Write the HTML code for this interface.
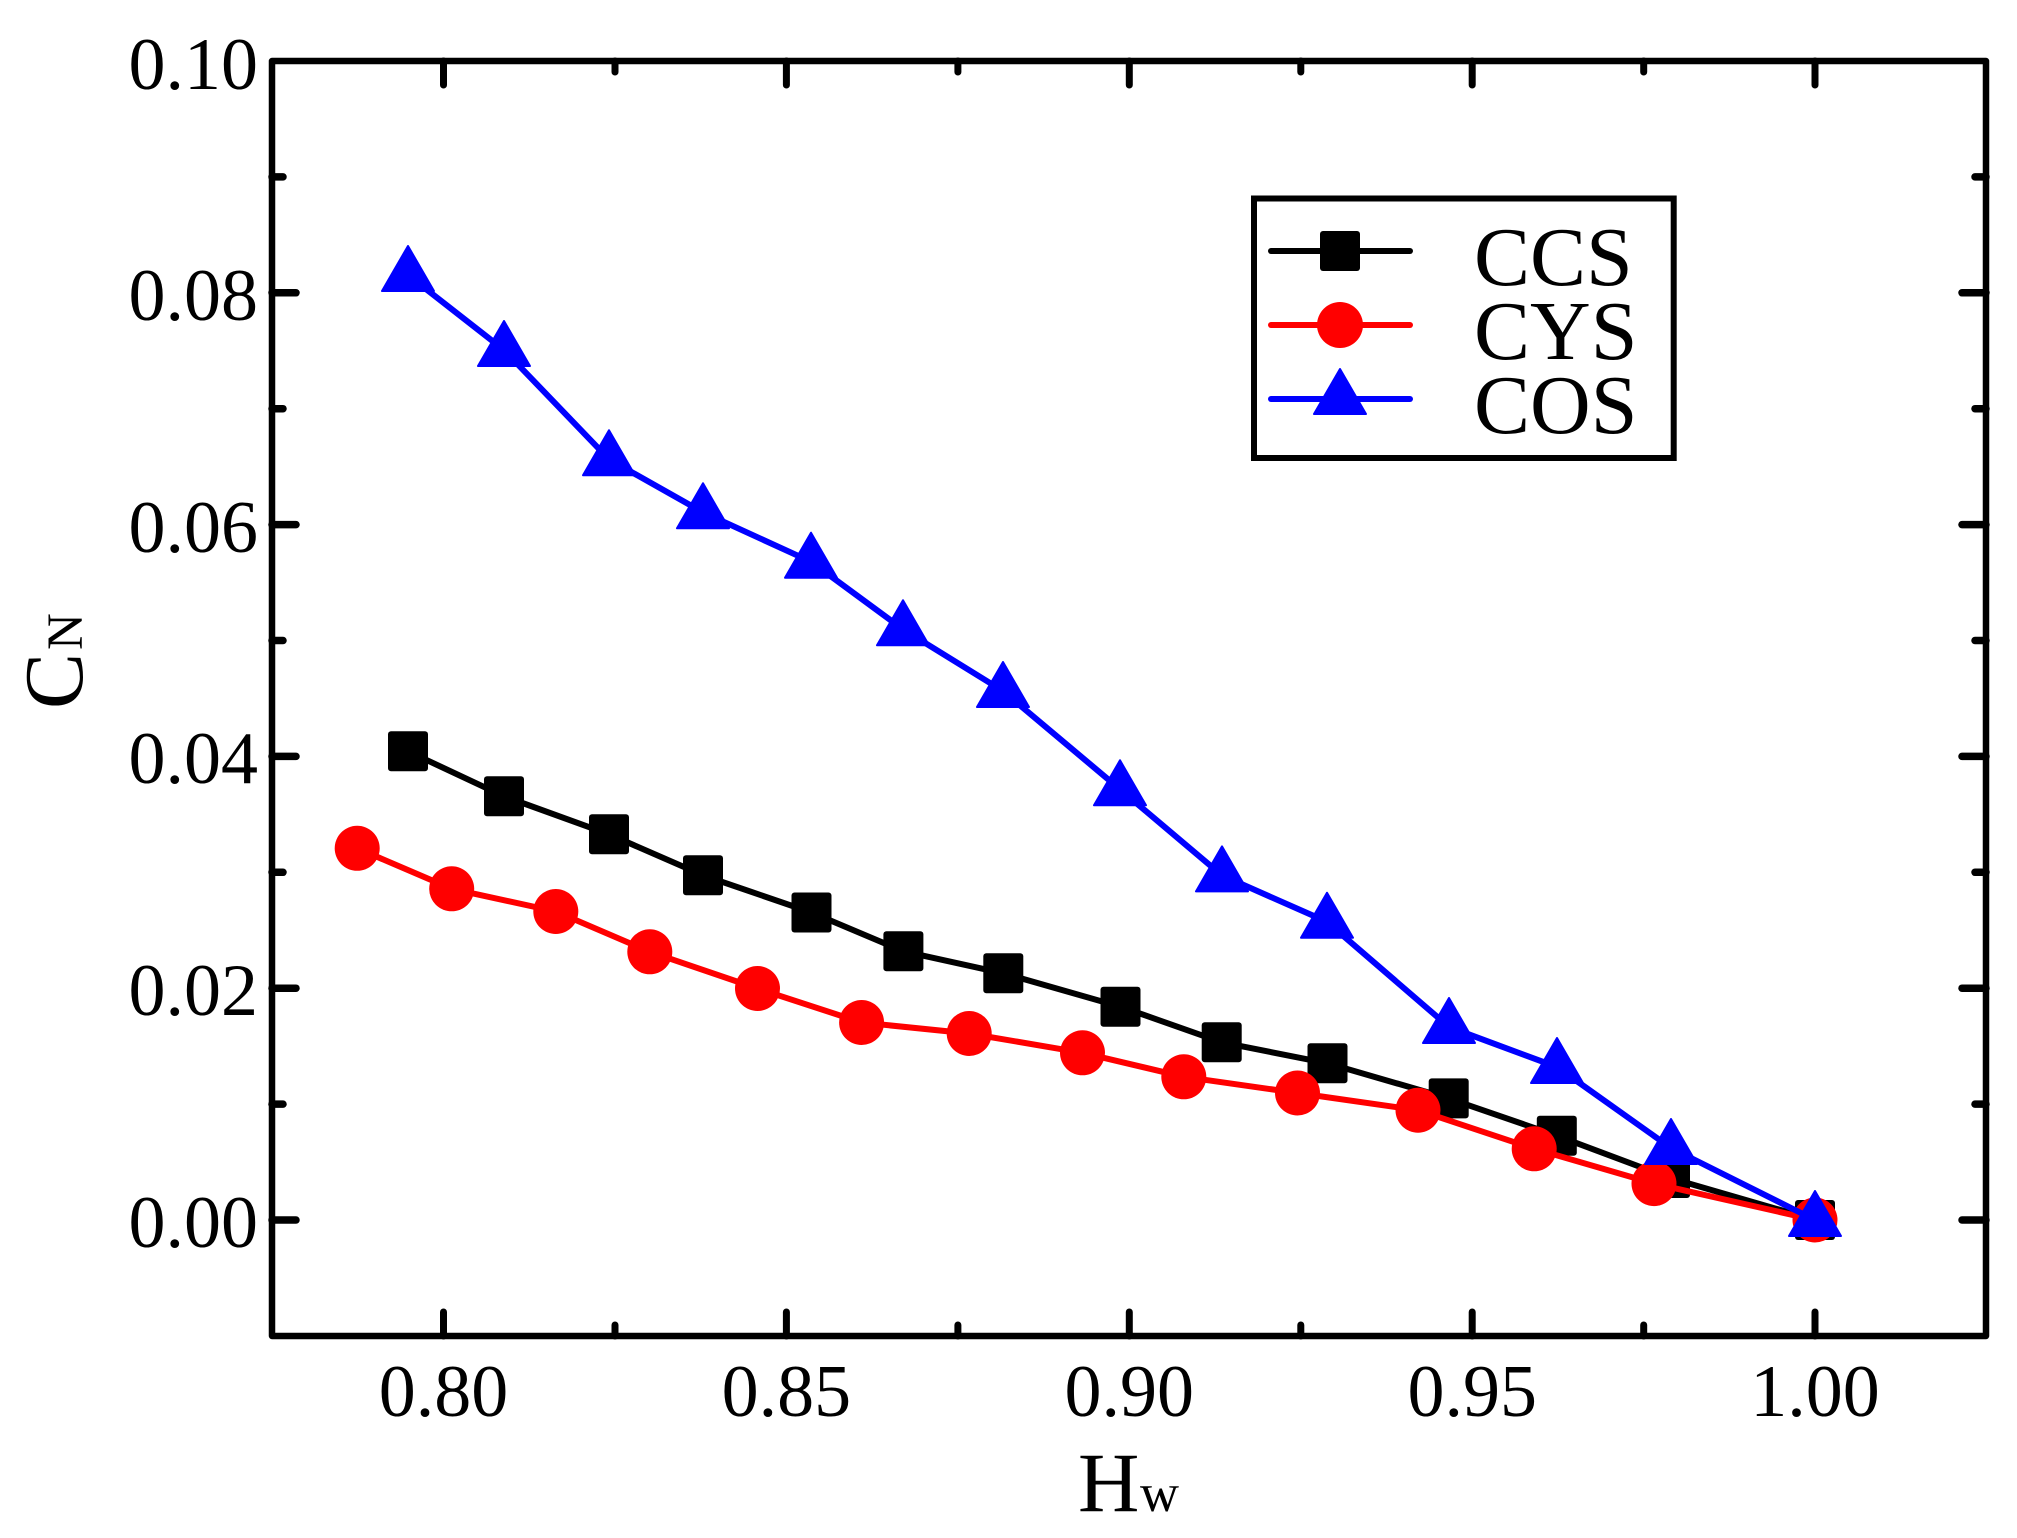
<!DOCTYPE html>
<html>
<head>
<meta charset="utf-8">
<style>
html,body{margin:0;padding:0;background:#fff;}
svg{display:block;}
text{font-family:"Liberation Serif","DejaVu Serif",serif;fill:#000;}
</style>
</head>
<body>
<svg width="2017" height="1538" viewBox="0 0 2017 1538" xmlns="http://www.w3.org/2000/svg">
<rect x="0" y="0" width="2017" height="1538" fill="#fff"/>

<!-- ticks -->
<g stroke="#000" stroke-width="7.5" stroke-linecap="round" fill="none">
  <line x1="272" y1="1220" x2="296" y2="1220"/>
  <line x1="272" y1="988.2" x2="296" y2="988.2"/>
  <line x1="272" y1="756.4" x2="296" y2="756.4"/>
  <line x1="272" y1="524.6" x2="296" y2="524.6"/>
  <line x1="272" y1="292.8" x2="296" y2="292.8"/>
  <line x1="272" y1="1104.1" x2="283" y2="1104.1"/>
  <line x1="272" y1="872.3" x2="283" y2="872.3"/>
  <line x1="272" y1="640.5" x2="283" y2="640.5"/>
  <line x1="272" y1="408.7" x2="283" y2="408.7"/>
  <line x1="272" y1="176.9" x2="283" y2="176.9"/>
  <line x1="1986" y1="1220" x2="1962" y2="1220"/>
  <line x1="1986" y1="988.2" x2="1962" y2="988.2"/>
  <line x1="1986" y1="756.4" x2="1962" y2="756.4"/>
  <line x1="1986" y1="524.6" x2="1962" y2="524.6"/>
  <line x1="1986" y1="292.8" x2="1962" y2="292.8"/>
  <line x1="1986" y1="1104.1" x2="1975" y2="1104.1"/>
  <line x1="1986" y1="872.3" x2="1975" y2="872.3"/>
  <line x1="1986" y1="640.5" x2="1975" y2="640.5"/>
  <line x1="1986" y1="408.7" x2="1975" y2="408.7"/>
  <line x1="1986" y1="176.9" x2="1975" y2="176.9"/>
</g>
<g stroke="#000" stroke-width="7" stroke-linecap="round" fill="none">
  <line x1="443.5" y1="1336" x2="443.5" y2="1312"/>
  <line x1="786.4" y1="1336" x2="786.4" y2="1312"/>
  <line x1="1129.3" y1="1336" x2="1129.3" y2="1312"/>
  <line x1="1472.2" y1="1336" x2="1472.2" y2="1312"/>
  <line x1="1815" y1="1336" x2="1815" y2="1312"/>
  <line x1="615" y1="1336" x2="615" y2="1325"/>
  <line x1="957.9" y1="1336" x2="957.9" y2="1325"/>
  <line x1="1300.8" y1="1336" x2="1300.8" y2="1325"/>
  <line x1="1643.7" y1="1336" x2="1643.7" y2="1325"/>
  <line x1="443.5" y1="61" x2="443.5" y2="85"/>
  <line x1="786.4" y1="61" x2="786.4" y2="85"/>
  <line x1="1129.3" y1="61" x2="1129.3" y2="85"/>
  <line x1="1472.2" y1="61" x2="1472.2" y2="85"/>
  <line x1="1815" y1="61" x2="1815" y2="85"/>
  <line x1="615" y1="61" x2="615" y2="72"/>
  <line x1="957.9" y1="61" x2="957.9" y2="72"/>
  <line x1="1300.8" y1="61" x2="1300.8" y2="72"/>
  <line x1="1643.7" y1="61" x2="1643.7" y2="72"/>
</g>

<!-- frame -->
<rect x="272" y="61" width="1714" height="1275" fill="none" stroke="#000" stroke-width="6.5" stroke-linejoin="round"/>

<!-- y tick labels -->
<g font-size="74" text-anchor="end">
  <text x="258" y="1247">0.00</text>
  <text x="258" y="1015">0.02</text>
  <text x="258" y="783">0.04</text>
  <text x="258" y="552">0.06</text>
  <text x="258" y="320">0.08</text>
  <text x="258" y="89">0.10</text>
</g>
<!-- x tick labels -->
<g font-size="74" text-anchor="middle">
  <text x="443.5" y="1416">0.80</text>
  <text x="786.4" y="1416">0.85</text>
  <text x="1129.3" y="1416">0.90</text>
  <text x="1472.2" y="1416">0.95</text>
  <text x="1815" y="1416">1.00</text>
</g>

<!-- axis titles -->
<text x="1078" y="1511" font-size="85">H</text>
<text x="1140" y="1511" font-size="54">w</text>
<g transform="translate(82,709) rotate(-90)">
  <text x="0" y="0" font-size="84">C</text>
  <text x="59" y="0" font-size="51">N</text>
</g>

<!-- CCS series (black) -->
<polyline fill="none" stroke="#000" stroke-width="6" stroke-linejoin="round" stroke-linecap="round"
  points="408,751.3 504,796.3 609,834.3 703,875.3 811.5,912.5 903.4,951.3 1003.3,973.3 1120.5,1006.7 1221.7,1042.3 1327.5,1063.3 1448.7,1098.4 1556.8,1135.7 1670,1178 1815,1220"/>
<g fill="#000">
  <rect x="388" y="731.3" width="40" height="40" rx="3"/>
  <rect x="484" y="776.3" width="40" height="40" rx="3"/>
  <rect x="589" y="814.3" width="40" height="40" rx="3"/>
  <rect x="683" y="855.3" width="40" height="40" rx="3"/>
  <rect x="791.5" y="892.5" width="40" height="40" rx="3"/>
  <rect x="883.4" y="931.3" width="40" height="40" rx="3"/>
  <rect x="983.3" y="953.3" width="40" height="40" rx="3"/>
  <rect x="1100.5" y="986.7" width="40" height="40" rx="3"/>
  <rect x="1201.7" y="1022.3" width="40" height="40" rx="3"/>
  <rect x="1307.5" y="1043.3" width="40" height="40" rx="3"/>
  <rect x="1428.7" y="1078.4" width="40" height="40" rx="3"/>
  <rect x="1536.8" y="1115.7" width="40" height="40" rx="3"/>
  <rect x="1650" y="1158" width="40" height="40" rx="3"/>
  <rect x="1795" y="1200" width="40" height="40" rx="3"/>
</g>

<!-- CYS series (red) -->
<polyline fill="none" stroke="#ff0000" stroke-width="6" stroke-linejoin="round" stroke-linecap="round"
  points="357.2,848.3 451.7,888.8 555.8,911.5 649.8,951.8 757.5,988.5 861.6,1022.5 969.2,1033.5 1082.5,1052.8 1183.8,1076.8 1297.5,1093 1418,1110.2 1534.2,1148.8 1654,1183.6 1815,1220"/>
<g fill="#ff0000">
  <circle cx="357.2" cy="848.3" r="22.5"/>
  <circle cx="451.7" cy="888.8" r="22.5"/>
  <circle cx="555.8" cy="911.5" r="22.5"/>
  <circle cx="649.8" cy="951.8" r="22.5"/>
  <circle cx="757.5" cy="988.5" r="22.5"/>
  <circle cx="861.6" cy="1022.5" r="22.5"/>
  <circle cx="969.2" cy="1033.5" r="22.5"/>
  <circle cx="1082.5" cy="1052.8" r="22.5"/>
  <circle cx="1183.8" cy="1076.8" r="22.5"/>
  <circle cx="1297.5" cy="1093" r="22.5"/>
  <circle cx="1418" cy="1110.2" r="22.5"/>
  <circle cx="1534.2" cy="1148.8" r="22.5"/>
  <circle cx="1654" cy="1183.6" r="22.5"/>
  <circle cx="1815" cy="1220" r="22.5"/>
</g>

<!-- COS series (blue) -->
<polyline fill="none" stroke="#0000ff" stroke-width="6" stroke-linejoin="round" stroke-linecap="round"
  points="408,275 504,350 609,459.3 703,512.3 811,561.7 903,629.3 1003,691 1120,789.3 1222,875.4 1327,921.8 1449,1027 1557,1067 1671,1148 1815,1220"/>
<g fill="#0000ff" stroke="#0000ff" stroke-width="2" stroke-linejoin="round">
  <polygon points="408,246 382,291 434,291"/>
  <polygon points="504,321 478,366 530,366"/>
  <polygon points="609,430.3 583,475.3 635,475.3"/>
  <polygon points="703,483.3 677,528.3 729,528.3"/>
  <polygon points="811,532.7 785,577.7 837,577.7"/>
  <polygon points="903,600.3 877,645.3 929,645.3"/>
  <polygon points="1003,662 977,707 1029,707"/>
  <polygon points="1120,760.3 1094,805.3 1146,805.3"/>
  <polygon points="1222,846.4 1196,891.4 1248,891.4"/>
  <polygon points="1327,892.8 1301,937.8 1353,937.8"/>
  <polygon points="1449,998 1423,1043 1475,1043"/>
  <polygon points="1557,1038 1531,1083 1583,1083"/>
  <polygon points="1671,1119 1645,1164 1697,1164"/>
  <polygon points="1815,1191 1789,1236 1841,1236"/>
</g>

<!-- legend -->
<rect x="1254" y="198.5" width="419.7" height="259.5" fill="#fff" stroke="#000" stroke-width="6"/>
<line x1="1271" y1="251" x2="1410" y2="251" stroke="#000" stroke-width="6" stroke-linecap="round"/>
<rect x="1320" y="231" width="40" height="40" rx="3" fill="#000"/>
<line x1="1271" y1="325" x2="1410" y2="325" stroke="#ff0000" stroke-width="6" stroke-linecap="round"/>
<circle cx="1340" cy="325" r="23" fill="#ff0000"/>
<line x1="1271" y1="399" x2="1410" y2="399" stroke="#0000ff" stroke-width="6" stroke-linecap="round"/>
<polygon points="1340,369 1314,414 1366,414" fill="#0000ff" stroke="#0000ff" stroke-width="2" stroke-linejoin="round"/>
<g font-size="84">
  <text x="1474" y="285">CCS</text>
  <text x="1474" y="359">CYS</text>
  <text x="1474" y="433">COS</text>
</g>
</svg>
</body>
</html>
